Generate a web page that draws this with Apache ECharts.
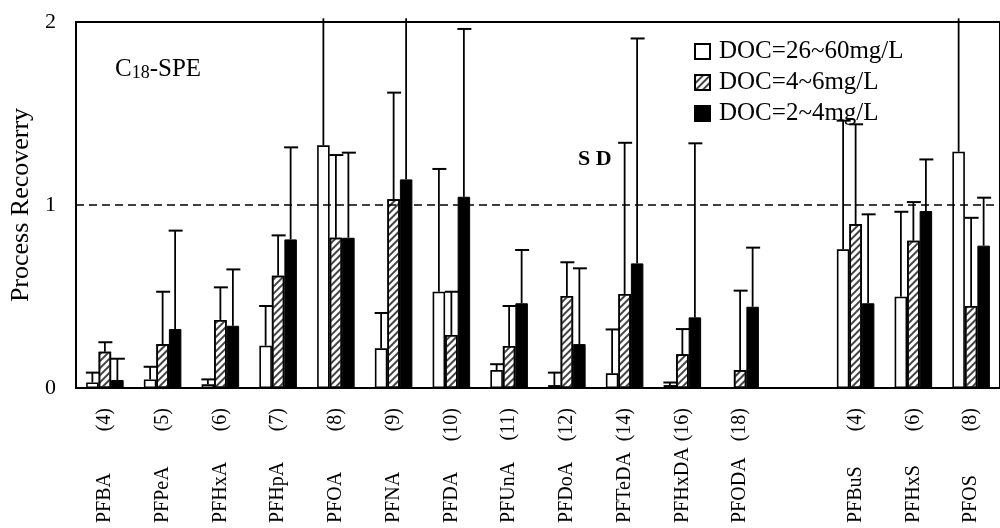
<!DOCTYPE html>
<html>
<head>
<meta charset="utf-8">
<script src="https://cdn.jsdelivr.net/npm/echarts@6/dist/echarts.min.js"></script>
<style>html,body{margin:0;padding:0;background:#fff;}#c{width:1000px;height:528px;}</style>
</head>
<body>
<div id="c"></div>
<script>
const names = ['PFBA','PFPeA','PFHxA','PFHpA','PFOA','PFNA','PFDA','PFUnA','PFDoA','PFTeDA','PFHxDA','PFODA','','PFBuS','PFHxS','PFOS'];
const chains = ['(4)','(5)','(6)','(7)','(8)','(9)','(10)','(11)','(12)','(14)','(16)','(18)','','(4)','(6)','(8)'];
const seriesNames = ['DOC=26~60mg/L','DOC=4~6mg/L','DOC=2~4mg/L'];
const highMean = [0.03,0.047,0.02,0.231,1.326,0.217,0.526,0.098,0.016,0.08,0.016,0,null,0.758,0.499,1.291];
const highSD   = [0.054,0.069,0.027,0.217,0.694,0.193,0.671,0.032,0.068,0.24,0.014,null,null,0.703,0.464,0.729];
const midMean  = [0.198,0.24,0.372,0.614,0.821,1.031,0.29,0.23,0.503,0.514,0.184,0.098,null,0.896,0.805,0.448];
const midSD    = [0.052,0.286,0.178,0.22,0.452,0.583,0.236,0.218,0.184,0.826,0.138,0.434,null,0.545,0.211,0.482];
const lowMean  = [0.044,0.322,0.34,0.812,0.821,1.14,1.045,0.463,0.24,0.681,0.386,0.444,null,0.463,0.967,0.778];
const lowSD    = [0.116,0.538,0.308,0.503,0.465,0.88,0.917,0.291,0.414,1.229,0.951,0.323,null,0.486,0.282,0.262];
const yTicks = [0,1,2];

const FONT = '"Liberation Serif","DejaVu Serif",serif';
const BW = 12.5;
const YMAX = 2;

function errSeries(mean, sd, offset) {
  return {
    type: 'custom',
    z: 5,
    clip: false,
    silent: true,
    data: mean.map((m, i) => [i, m, sd[i] == null ? NaN : sd[i]]),
    encode: {x: 0, y: 1},
    renderItem: function (params, api) {
      const i = api.value(0), m = api.value(1), s = api.value(2);
      if (isNaN(s) || isNaN(m)) return;
      const p0 = api.coord([i, m]);
      const p1 = api.coord([i, m + s]);
      const x = p0[0] + offset;
      const st = {stroke: '#000', lineWidth: 1.8};
      const children = [{type: 'line', shape: {x1: x, y1: p0[1], x2: x, y2: p1[1]}, style: st}];
      if (m + s <= YMAX) {
        children.push({type: 'line', shape: {x1: x - 6.5, y1: p1[1], x2: x + 7.5, y2: p1[1]}, style: {stroke: '#000', lineWidth: 2}});
      }
      return {type: 'group', children: children};
    }
  };
}

const chart = echarts.init(document.getElementById('c'), null, {renderer: 'canvas'});
chart.setOption({
  animation: false,
  backgroundColor: '#fff',
  textStyle: {fontFamily: FONT},
  grid: {left: 76, top: 22, width: 936, height: 366, show: true, borderColor: '#000', borderWidth: 2, backgroundColor: 'transparent'},
  legend: {
    orient: 'vertical', left: 689, top: 34, itemGap: 6, itemWidth: 15, itemHeight: 15,
    icon: 'rect', data: seriesNames,
    textStyle: {fontFamily: FONT, fontSize: 25, color: '#000', padding: [0,0,0,4]}
  },
  graphic: [
    {type: 'text', left: 115, top: 57, style: {
      text: '{a|C}{b|18}{a|-SPE}', fontFamily: FONT, fill: '#000',
      rich: {a: {fontSize: 25, fontFamily: FONT, verticalAlign: 'bottom'}, b: {fontSize: 18, fontFamily: FONT, verticalAlign: 'bottom'}}
    }},
    {type: 'text', left: 578, top: 148, style: {text: 'S D', fontFamily: FONT, fontSize: 22, fontWeight: 'bold', fill: '#000'}}
  ],
  xAxis: [
    {
      type: 'category', data: names, gridIndex: 0, position: 'bottom',
      axisLine: {lineStyle: {color: '#000', width: 2}},
      axisTick: {inside: true, length: 6, lineStyle: {color: '#000', width: 1.5}},
      axisLabel: {rotate: 90, align: 'left', margin: 135, interval: 0, fontFamily: FONT, fontSize: 20, color: '#000'}
    },
    {
      type: 'category', data: chains, gridIndex: 0, position: 'bottom',
      axisLine: {show: false}, axisTick: {show: false},
      axisLabel: {rotate: 90, margin: 20, interval: 0, fontFamily: FONT, fontSize: 20, color: '#000'}
    }
  ],
  yAxis: {
    type: 'value', min: yTicks[0], max: yTicks[yTicks.length - 1], interval: 1,
    name: 'Process Recoverry', nameLocation: 'middle', nameGap: 38,
    nameTextStyle: {fontFamily: FONT, fontSize: 26, color: '#000'},
    axisLine: {show: true, lineStyle: {color: '#000', width: 2}},
    axisTick: {show: false},
    splitLine: {show: false},
    axisLabel: {margin: 20, fontFamily: FONT, fontSize: 22, color: '#000'}
  },
  series: [
    {
      name: seriesNames[0], type: 'bar', data: highMean, barWidth: BW, barGap: '0%',
      itemStyle: {color: '#fff', borderColor: '#000', borderWidth: 1.6},
      markLine: {silent: true, symbol: 'none', label: {show: false},
        lineStyle: {color: '#000', type: [8, 5], width: 1.6}, data: [{yAxis: 1}]}
    },
    {
      name: seriesNames[1], type: 'bar', data: midMean, barWidth: BW, barGap: '0%',
      itemStyle: {color: '#fff', borderColor: '#000', borderWidth: 1.6,
        decal: {symbol: 'rect', dashArrayX: [1, 0], dashArrayY: [1.6, 2.6], rotation: -Math.PI / 4, color: '#444'}}
    },
    {
      name: seriesNames[2], type: 'bar', data: lowMean, barWidth: BW, barGap: '0%',
      itemStyle: {color: '#000', borderColor: '#000', borderWidth: 1}
    },
    errSeries(highMean, highSD, -BW),
    errSeries(midMean, midSD, 0),
    errSeries(lowMean, lowSD, BW)
  ]
});
</script>
</body>
</html>
